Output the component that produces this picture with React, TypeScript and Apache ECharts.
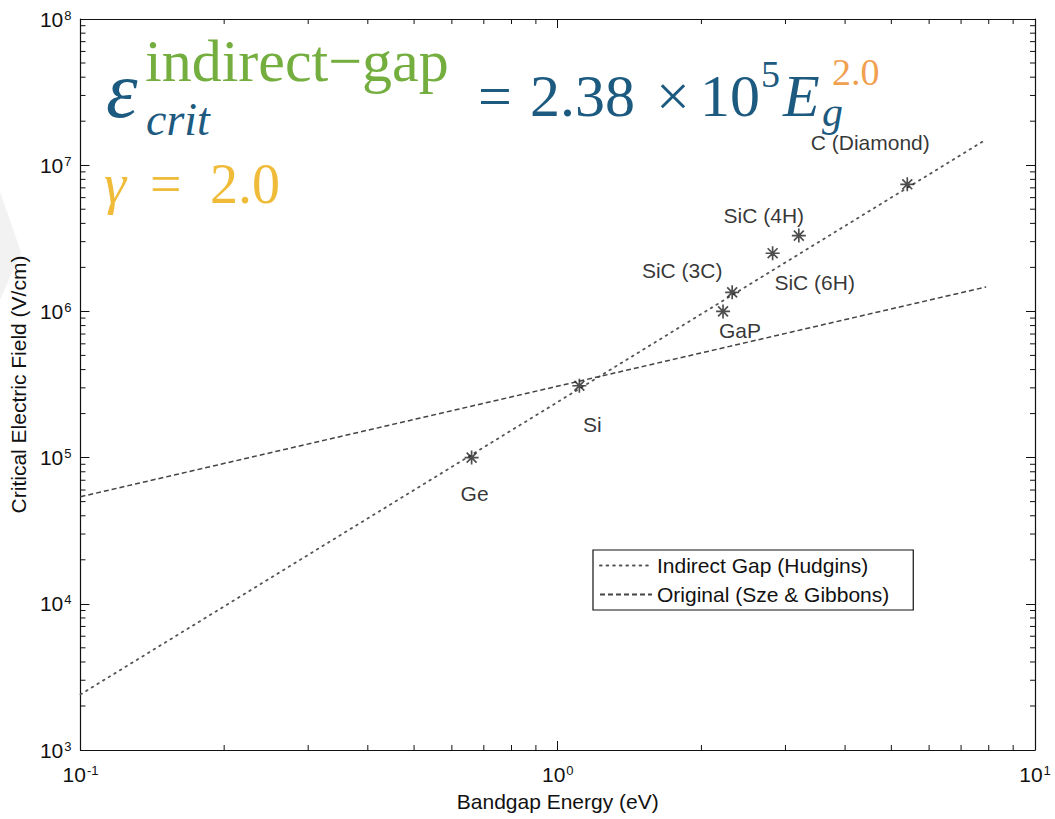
import React, { useEffect, useRef } from "react";
import * as echarts from "echarts";

// Axis ranges (log-log)
const X_MIN = 0.1;
const X_MAX = 10;
const Y_MIN = 1e3;
const Y_MAX = 1e8;

// Semiconductor materials: bandgap (eV) and critical electric field (V/cm)
const materials = ["Ge", "Si", "GaP", "SiC (3C)", "SiC (6H)", "SiC (4H)", "C (Diamond)"];
const bandgaps = [0.66, 1.11, 2.22, 2.32, 2.82, 3.2, 5.4];
const criticalFields = [1.0e5, 3.1e5, 1.0e6, 1.35e6, 2.5e6, 3.3e6, 7.4e6];

// Fitted trend lines, end points [Eg, field]
const indirectGapLine = [
  [0.1, 2.4e3],
  [7.9, 1.5e7],
];
const originalLine = [
  [0.1, 5.4e4],
  [7.9, 1.47e6],
];

const seriesNames = ["Indirect Gap (Hudgins)", "Original (Sze & Gibbons)"];

// Minor tick positions inside each decade
const minorMultipliers = [2, 3, 4, 5, 6, 7, 8, 9];
const xDecades = [0.1, 1];
const yDecades = [1e3, 1e4, 1e5, 1e6, 1e7];

// Label placement for each material (pixel offsets from its marker)
const labelOffsets = [
  [3, 36],
  [13, 39],
  [17, 19],
  [-50, -22],
  [42, 29],
  [-35, -20],
  [-37, -42],
];

// Asterisk marker
const STAR =
  "path://M8.8 0L11.2 0L11.2 20L8.8 20Z M0 8.8L20 8.8L20 11.2L0 11.2Z M3.78 2.08L17.92 16.22L16.22 17.92L2.08 3.78Z M17.92 3.78L3.78 17.92L2.08 16.22L16.22 2.08Z";

const SANS = '"Liberation Sans", Arial, sans-serif';
const SERIF = '"Liberation Serif", "Times New Roman", serif';
const BLUE = "#1d5a80";
const GREEN = "#74ae3f";
const ORANGE = "#f0a04e";
const YELLOW = "#efbb38";
const INK = "#111";

function App() {
  const ref = useRef<HTMLDivElement | null>(null);

  useEffect(() => {
    if (!ref.current) return;
    const chart = echarts.init(ref.current, null, { renderer: "svg" });

    const xMinor: number[][] = [];
    xDecades.forEach((d) => minorMultipliers.forEach((m) => xMinor.push([d * m, Y_MIN])));
    const yMinor: number[][] = [];
    yDecades.forEach((d) => minorMultipliers.forEach((m) => yMinor.push([X_MIN, d * m])));

    const powerLabel = (v: number) => {
      const e = Math.round(Math.log10(v));
      return `{b|10}{s|${e}}`;
    };
    const labelRich = {
      b: { fontSize: 21, fontFamily: SANS, color: INK },
      s: { fontSize: 13, fontFamily: SANS, color: INK, verticalAlign: "top", padding: [0, 0, 0, 1] },
    };

    const minorTick = (vertical: boolean) => (params: any, api: any) => {
      const len = 5;
      const style = { stroke: INK, lineWidth: 1 };
      if (vertical) {
        const x = api.value(0);
        const b = api.coord([x, Y_MIN]);
        const t = api.coord([x, Y_MAX]);
        return {
          type: "group",
          children: [
            { type: "line", shape: { x1: b[0], y1: b[1], x2: b[0], y2: b[1] - len }, style },
            { type: "line", shape: { x1: t[0], y1: t[1], x2: t[0], y2: t[1] + len }, style },
          ],
        };
      }
      const y = api.value(1);
      const l = api.coord([X_MIN, y]);
      const r = api.coord([X_MAX, y]);
      return {
        type: "group",
        children: [
          { type: "line", shape: { x1: l[0], y1: l[1], x2: l[0] + len, y2: l[1] }, style },
          { type: "line", shape: { x1: r[0], y1: r[1], x2: r[0] - len, y2: r[1] }, style },
        ],
      };
    };

    const axisCommon = {
      type: "log" as const,
      logBase: 10,
      axisLine: { show: true, lineStyle: { color: INK, width: 1.2 } },
      axisTick: { show: true, inside: true, length: 9, lineStyle: { color: INK, width: 1 } },
      splitLine: { show: false },
      minorTick: { show: false },
    };

    chart.setOption({
      animation: false,
      backgroundColor: "#ffffff",
      grid: { left: 77, top: 19, width: 958, height: 731, containLabel: false },
      xAxis: [
        {
          ...axisCommon,
          min: X_MIN,
          max: X_MAX,
          position: "bottom",
          name: "Bandgap Energy (eV)",
          nameLocation: "middle",
          nameGap: 41,
          nameTextStyle: { fontSize: 21, fontFamily: SANS, color: INK },
          axisLabel: { formatter: powerLabel, rich: labelRich, margin: 14 },
        },
        {
          ...axisCommon,
          min: X_MIN,
          max: X_MAX,
          position: "top",
          axisLabel: { show: false },
        },
      ],
      yAxis: [
        {
          ...axisCommon,
          min: Y_MIN,
          max: Y_MAX,
          position: "left",
          name: "Critical Electric Field (V/cm)",
          nameLocation: "middle",
          nameGap: 47,
          nameTextStyle: { fontSize: 21, fontFamily: SANS, color: INK },
          axisLabel: { formatter: powerLabel, rich: labelRich, margin: 9 },
        },
        {
          ...axisCommon,
          min: Y_MIN,
          max: Y_MAX,
          position: "right",
          axisLabel: { show: false },
        },
      ],
      legend: {
        data: seriesNames,
        orient: "vertical",
        left: 593,
        top: 550,
        padding: [5, 24, 5, 6],
        itemGap: 8,
        itemWidth: 52,
        itemHeight: 14,
        borderColor: INK,
        borderWidth: 1.2,
        backgroundColor: "#ffffff",
        itemStyle: { opacity: 0 },
        textStyle: { fontSize: 21, fontFamily: SANS, color: INK },
      },
      series: [
        {
          name: seriesNames[0],
          type: "line",
          data: indirectGapLine,
          symbol: "none",
          itemStyle: { color: "#555" },
          lineStyle: { color: "#555", width: 1.8, type: [1.6, 5], cap: "round" },
          z: 3,
        },
        {
          name: seriesNames[1],
          type: "line",
          data: originalLine,
          symbol: "none",
          itemStyle: { color: "#444" },
          lineStyle: { color: "#444", width: 1.5, type: [5, 3] },
          z: 3,
        },
        {
          name: "materials",
          type: "scatter",
          symbol: STAR,
          symbolSize: 14,
          itemStyle: { color: "#222" },
          z: 4,
          data: materials.map((name, i) => ({
            name,
            value: [bandgaps[i], criticalFields[i]],
            label: { offset: labelOffsets[i] },
          })),
          label: {
            show: true,
            position: "inside",
            formatter: (p: any) => p.name,
            fontSize: 21,
            fontFamily: SANS,
            color: "#000",
            textBorderWidth: 0,
          },
        },
        {
          name: "xMinorTicks",
          type: "custom",
          silent: true,
          clip: false,
          data: xMinor,
          renderItem: minorTick(true),
          z: 5,
        },
        {
          name: "yMinorTicks",
          type: "custom",
          silent: true,
          clip: false,
          data: yMinor,
          renderItem: minorTick(false),
          z: 5,
        },
      ],
      graphic: [
        {
          type: "polygon",
          shape: { points: [[0, 192], [21, 252], [0, 300]] },
          style: { fill: "#f2f2f2" },
          silent: true,
        },
        // Power-law equation
        {
          type: "text",
          style: { text: "ε", x: 106, y: 90, font: `italic 80px ${SERIF}`, fill: BLUE, textVerticalAlign: "middle" },
        },
        {
          type: "text",
          style: { text: "indirect−gap", x: 145, y: 61, font: `60px ${SERIF}`, fill: GREEN, textVerticalAlign: "middle" },
        },
        {
          type: "text",
          style: { text: "crit", x: 146, y: 119, font: `italic 46px ${SERIF}`, fill: BLUE, textVerticalAlign: "middle" },
        },
        {
          type: "text",
          style: { text: "=", x: 478, y: 96, font: `60px ${SERIF}`, fill: BLUE, textVerticalAlign: "middle" },
        },
        {
          type: "text",
          style: { text: "2.38", x: 530, y: 96, font: `60px ${SERIF}`, fill: BLUE, textVerticalAlign: "middle" },
        },
        {
          type: "text",
          style: { text: "×", x: 656, y: 96, font: `60px ${SERIF}`, fill: BLUE, textVerticalAlign: "middle" },
        },
        {
          type: "text",
          style: { text: "10", x: 700, y: 96, font: `60px ${SERIF}`, fill: BLUE, textVerticalAlign: "middle" },
        },
        {
          type: "text",
          style: { text: "5", x: 761, y: 74, font: `38px ${SERIF}`, fill: BLUE, textVerticalAlign: "middle" },
        },
        {
          type: "text",
          style: { text: "E", x: 783, y: 96, font: `italic 60px ${SERIF}`, fill: BLUE, textVerticalAlign: "middle" },
        },
        {
          type: "text",
          style: { text: "g", x: 822, y: 112, font: `italic 42px ${SERIF}`, fill: BLUE, textVerticalAlign: "middle" },
        },
        {
          type: "text",
          style: { text: "2.0", x: 832, y: 72, font: `38px ${SERIF}`, fill: ORANGE, textVerticalAlign: "middle" },
        },
        // Exponent
        {
          type: "text",
          style: { text: "γ", x: 104, y: 184, font: `italic 56px ${SERIF}`, fill: YELLOW, textVerticalAlign: "middle" },
        },
        {
          type: "text",
          style: { text: "=", x: 150, y: 184, font: `56px ${SERIF}`, fill: YELLOW, textVerticalAlign: "middle" },
        },
        {
          type: "text",
          style: { text: "2.0", x: 210, y: 184, font: `56px ${SERIF}`, fill: YELLOW, textVerticalAlign: "middle" },
        },
      ],
    });

    return () => chart.dispose();
  }, []);

  return (
    <div
      ref={ref}
      style={{ position: "absolute", left: 0, top: 0, width: 1055, height: 819, background: "#fff" }}
    />
  );
}

export default App;
